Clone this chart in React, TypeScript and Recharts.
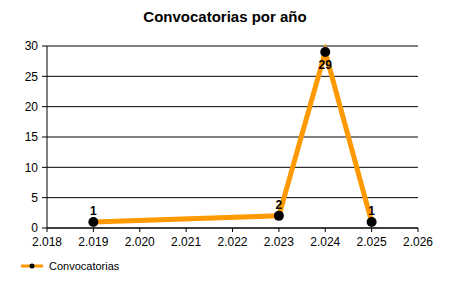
import { LineChart, Line, XAxis, YAxis, CartesianGrid, LabelList } from 'recharts';

const years = [2019, 2023, 2024, 2025];
const counts = [1, 2, 29, 1];
const xTicks = [2018, 2019, 2020, 2021, 2022, 2023, 2024, 2025, 2026];
const yTicks = [0, 5, 10, 15, 20, 25, 30];

const data = years.map((y, i) => ({ year: y, Convocatorias: counts[i] }));

const FONT = '"Liberation Sans", Arial, sans-serif';
const ORANGE = '#FF9900';

// formato con punto de miles: 2.018
const fmtYear = (v: number) => {
    const s = String(v);
    return s.length > 3 ? s.slice(0, s.length - 3) + '.' + s.slice(-3) : s;
};

// etiqueta encima del punto, o debajo si está cerca del techo
const PointLabel = (props: any) => {
    const { x, y, value } = props;
    const below = value >= 25;
    return (
        <text
            x={x}
            y={below ? y + 14 : y - 10}
            textAnchor="middle"
            dominantBaseline="middle"
            fontFamily={FONT}
            fontSize={12}
            fontWeight="bold"
            fill="#000"
        >
            {value}
        </text>
    );
};

export default function App() {
    return (
        <div style={{ position: 'absolute', left: 0, top: 0, width: 450, height: 300, background: '#fff' }}>
            <div
                style={{
                    position: 'absolute',
                    top: 8,
                    width: 450,
                    textAlign: 'center',
                    fontFamily: FONT,
                    fontSize: 15,
                    fontWeight: 'bold',
                    color: '#000',
                }}
            >
                Convocatorias por año
            </div>
            <LineChart
                width={450}
                height={300}
                data={data}
                margin={{ top: 46, right: 32, left: 0, bottom: 42 }}
            >
                <CartesianGrid stroke="#000" strokeWidth={1} vertical={false} />
                <XAxis
                    dataKey="year"
                    type="number"
                    domain={[2018, 2026]}
                    ticks={xTicks}
                    tickFormatter={fmtYear}
                    interval={0}
                    height={30}
                    stroke="#000"
                    tickSize={4}
                    tickMargin={5}
                    tick={{ fill: '#000', fontSize: 12, fontFamily: FONT }}
                />
                <YAxis
                    domain={[0, 30]}
                    ticks={yTicks}
                    interval={0}
                    width={47}
                    stroke="#000"
                    tickSize={5}
                    tickMargin={4}
                    tick={{ fill: '#000', fontSize: 12, fontFamily: FONT }}
                />
                <Line
                    type="linear"
                    dataKey="Convocatorias"
                    stroke={ORANGE}
                    strokeWidth={5}
                    dot={{ r: 5, fill: '#000', stroke: '#000', strokeWidth: 0 }}
                    activeDot={false}
                    isAnimationActive={false}
                >
                    <LabelList dataKey="Convocatorias" content={<PointLabel />} />
                </Line>
            </LineChart>
            <div
                style={{
                    position: 'absolute',
                    left: 21,
                    top: 260,
                    display: 'flex',
                    alignItems: 'center',
                    fontFamily: FONT,
                    fontSize: 11,
                }}
            >
                <svg width={24} height={10}>
                    <line x1={0} y1={5} x2={22} y2={5} stroke={ORANGE} strokeWidth={3} />
                    <circle cx={11} cy={5} r={2.5} fill="#000" />
                </svg>
                <span style={{ marginLeft: 4, color: '#000' }}>Convocatorias</span>
            </div>
        </div>
    );
}
